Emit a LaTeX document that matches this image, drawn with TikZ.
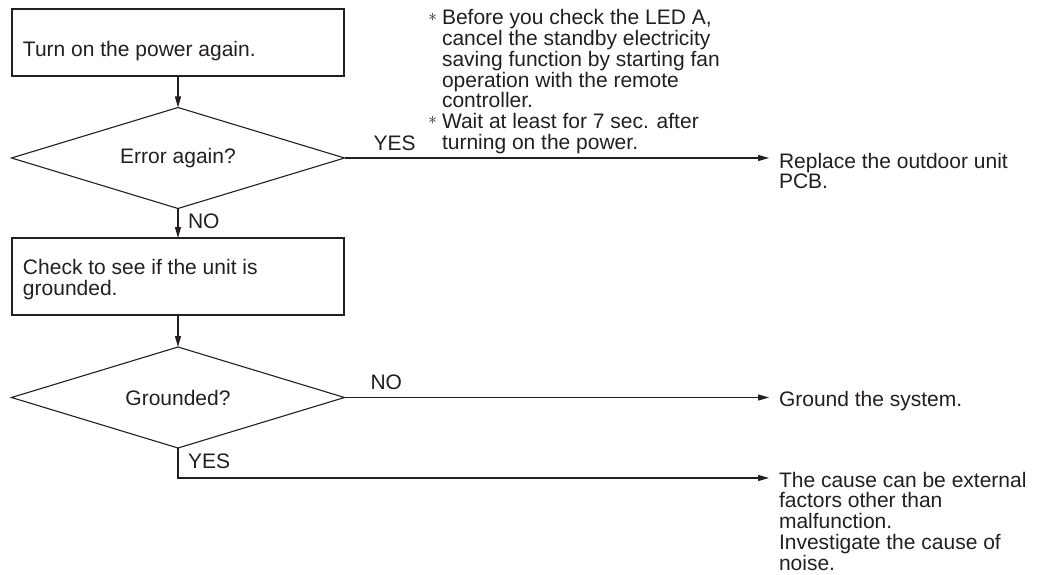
\documentclass[tikz,border=0pt]{standalone}
\usepackage{fontspec}
\setmainfont{Liberation Sans}
\usetikzlibrary{shapes.geometric,arrows.meta,calc}
\definecolor{ink}{RGB}{35,31,32}
\newcommand{\remarkmark}{\llap{\raisebox{3.5pt}{\fontsize{18}{18}\selectfont$\ast$}\hspace{5pt}}}
\begin{document}
\begin{tikzpicture}[x=1pt,y=1pt,
  every node/.style={inner sep=0pt, outer sep=0pt, text=ink},
  txt/.style={font=\fontsize{21}{20.75}\selectfont, align=left},
  stepbox/.style={draw=ink, line width=1.2pt, rectangle, minimum width=332pt},
  decision/.style={draw=ink, line width=1.1pt, diamond, aspect=3.3,
    minimum width=333pt, minimum height=101pt, font=\fontsize{21}{21}\selectfont},
  flow/.style={draw=ink, line width=1.2pt, -{Triangle[length=11pt,width=6pt]}}]
\useasboundingbox (0,0) rectangle (1042,-575);

% left column: steps and decisions (multi-line nodes sit on their last baseline)
\node[stepbox, minimum height=67pt] (b1) at (178,-42.5) {};
\node[txt, anchor=base west] (t1) at (23,-57) {Turn on the power again.};

\node[decision] (d1) at (178,-158) {Error again?};

\node[stepbox, minimum height=77pt] (b2) at (178,-276.5) {};
\node[txt, anchor=base west, font=\fontsize{21}{21}\selectfont] (t2) at (23,-295)
  {Check to see if the unit is\\grounded.};

\node[decision] (d2) at (178,-397.5) {Grounded?};

% branch labels
\node[txt, anchor=base west] (yes1) at ([xshift=29pt,yshift=7.5pt]d1.east) {YES};
\node[txt, anchor=base west] (no1) at ([xshift=10pt,yshift=-20pt]d1.south) {NO};
\node[txt, anchor=base west] (no2) at ([xshift=26pt,yshift=8.5pt]d2.east) {NO};
\node[txt, anchor=base west] (yes2) at ([xshift=10pt,yshift=-20pt]d2.south) {YES};

% remarks
\node[txt, anchor=base west, font=\fontsize{21}{20.7}\selectfont] (note) at (442,-149.2) {%
  \remarkmark Before you check the LED A,\\
  cancel the standby electricity\\
  saving function by starting fan\\
  operation with the remote\\
  controller.\\
  \remarkmark Wait at least for 7 sec. after\\
  turning on the power.};

% results
\node[txt, anchor=base west] (r1) at (779,-188.75) {Replace the outdoor unit\\PCB.};
\node[txt, anchor=base west] (r2) at (779,-406) {Ground the system.};
\coordinate (yesend) at (779,-478);
\node[txt, anchor=base west] (r3) at ([yshift=-92pt]yesend)
  {The cause can be external\\factors other than\\malfunction.\\Investigate the cause of\\noise.};

% connectors
\draw[flow] (b1.south) -- (d1.north);
\draw[flow] (d1.south) -- (b2.north);
\draw[flow] (b2.south) -- (d2.north);
\draw[flow, shorten >=10pt] (d1.east) -- (d1.east -| r1.west);
\draw[flow, shorten >=10pt] (d2.east) -- (d2.east -| r2.west);
\draw[flow, shorten >=10pt] (d2.south) |- (yesend);
\end{tikzpicture}
\end{document}
